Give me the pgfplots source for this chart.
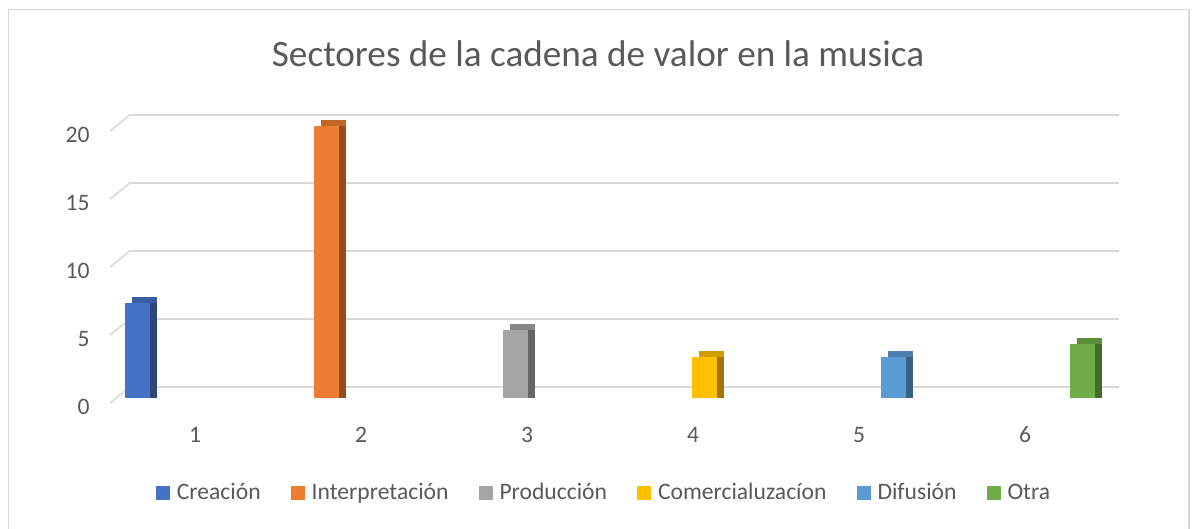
\documentclass[border=0pt]{standalone}
\usepackage{fontspec}
\setmainfont{Carlito}
\usepackage{pgfplots}
\pgfplotsset{compat=1.18}
\definecolor{cA}{HTML}{4472C4}
\definecolor{cB}{HTML}{ED7D31}
\definecolor{cC}{HTML}{A5A5A5}
\definecolor{cD}{HTML}{FFC000}
\definecolor{cE}{HTML}{5B9BD5}
\definecolor{cF}{HTML}{70AD47}
\definecolor{txt}{HTML}{595959}
\definecolor{gridc}{HTML}{D9D9D9}
\newcommand{\tdbar}[4]{%
\addplot[ybar, bar width=12.5pt, bar shift=#2, draw=none, fill=#1!82!black, xshift=3.5pt, yshift=3pt, forget plot] coordinates {#3};
\addplot[ybar, bar width=12.5pt, bar shift=#2, draw=none, fill=#1!62!black, xshift=3.5pt, forget plot] coordinates {#3};
\addplot[ybar, bar width=12.5pt, bar shift=#2, draw=none, fill=#1] coordinates {#3};
\addlegendentry{#4}}
\begin{document}
\begin{tikzpicture}
\useasboundingbox (0,0) rectangle (596.5pt,264.5pt);
\clip (0,0) rectangle (596.5pt,264.5pt);
\draw[gridc, line width=0.8pt] (4.25pt,-10pt) -- (4.25pt,259.75pt) -- (594.5pt,259.75pt) -- (594.5pt,-10pt);
\node[txt, anchor=base, font=\fontsize{18.6}{22}\selectfont] at (299pt,231pt) {Sectores de la cadena de valor en la musica};
\begin{axis}[
  at={(56pt,65.5pt)}, anchor=south west,
  scale only axis, width=498pt, height=136pt,
  xmin=0.5, xmax=6.5, ymin=0, ymax=20,
  clip=false,
  axis line style={draw=none}, tick style={draw=none},
  xtick={1,2,3,4,5,6},
  xticklabels={1,2,3,4,5,6},
  ytick={0,5,10,15,20},
  yticklabels={0,5,10,15,20},
  xticklabel style={anchor=base, yshift=-22.5pt, text=txt, font=\fontsize{11.8}{14}\selectfont},
  yticklabel style={anchor=base east, inner sep=0pt, xshift=-11pt, yshift=-8.2pt, text=txt, font=\fontsize{11.8}{14}\selectfont},
  legend columns=6,
  legend style={draw=none, at={(0.495,-0.349)}, anchor=center, text=txt,
    font=\fontsize{11.8}{14}\selectfont, column sep=1.5pt,
    /tikz/every even column/.append style={column sep=13pt}},
  legend image code/.code={\fill[#1] (0pt,-3.5pt) rectangle (7pt,3.5pt);},
]
\pgfplotsinvokeforeach{0,5,10,15,20}{
  \draw[gridc, line width=0.8pt] ([shift={(-1pt,-2.5pt)}]axis cs:0.5,#1) -- ([shift={(9pt,5.5pt)}]axis cs:0.5,#1) -- ([shift={(5.5pt,5.5pt)}]axis cs:6.5,#1);
}
\tdbar{cA}{-28.75pt}{(1,7)}{Creación}
\tdbar{cB}{-17.25pt}{(2,20)}{Interpretación}
\tdbar{cC}{-5.75pt}{(3,5)}{Producción}
\tdbar{cD}{5.75pt}{(4,3)}{Comercialuzacíon}
\tdbar{cE}{17.25pt}{(5,3)}{Difusión}
\tdbar{cF}{28.75pt}{(6,4)}{Otra}
\end{axis}
\end{tikzpicture}
\end{document}
